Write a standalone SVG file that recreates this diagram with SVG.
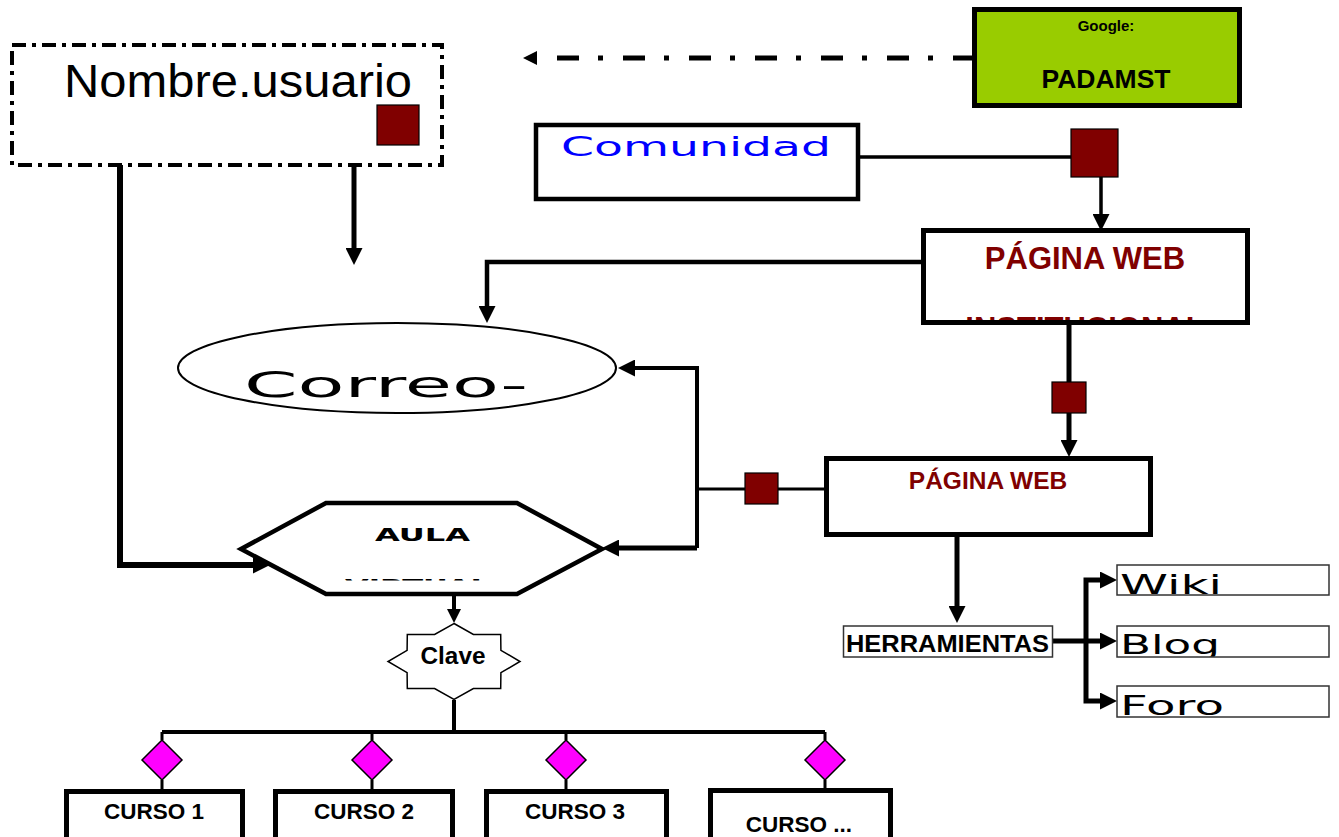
<svg xmlns="http://www.w3.org/2000/svg" width="1339" height="837" viewBox="0 0 1339 837">
<style>
.box{fill:#fff;stroke:#000}
.thin{fill:#fff;stroke:#333;stroke-width:1.5}
.sq{fill:#800000;stroke:#000;stroke-width:1.2}
.dia{fill:#ff00ff;stroke:#000;stroke-width:1.5}
.cal{font-family:"Liberation Sans",Arial,sans-serif;font-weight:bold}
.wide{font-family:"DejaVu Sans",Verdana,sans-serif}
.con{fill:none;stroke:#000;stroke-linejoin:miter}
</style>
<defs>
<marker id="arr" viewBox="0 0 10 10" refX="0" refY="5" markerUnits="userSpaceOnUse" markerWidth="17" markerHeight="17" orient="auto"><path d="M0,0 L10,5 L0,10 z" fill="#000"/></marker>
<marker id="arrS" viewBox="0 0 10 10" refX="0" refY="5" markerUnits="userSpaceOnUse" markerWidth="14" markerHeight="14" orient="auto"><path d="M0,0 L10,5 L0,10 z" fill="#000"/></marker>
<clipPath id="cInst"><rect x="926" y="233" width="319" height="87"/></clipPath>
<clipPath id="cAula"><rect x="240" y="505" width="360" height="75.5"/></clipPath>
<clipPath id="cWiki"><rect x="1117" y="565" width="212" height="30"/></clipPath>
<clipPath id="cBlog"><rect x="1117" y="626" width="212" height="30.5"/></clipPath>
<clipPath id="cForo"><rect x="1117" y="686" width="212" height="30.5"/></clipPath>
</defs>

<g id="connectors">
<path class="con" d="M975,58 L537,58" stroke-width="5" stroke-dasharray="22 20 5 19" marker-end="url(#arrS)"/>
<path class="con" d="M860,157 L1101,157 L1101,214" stroke-width="3.5" marker-end="url(#arr)"/>
<path class="con" d="M921,262 L487,262 L487,306" stroke-width="4.5" marker-end="url(#arr)"/>
<path class="con" d="M354,165 L354,248" stroke-width="5" marker-end="url(#arr)"/>
<path class="con" d="M120,165 L120,565 L253,565" stroke-width="6" marker-end="url(#arr)"/>
<path class="con" d="M1069,325 L1069,440" stroke-width="5" marker-end="url(#arr)"/>
<path class="con" d="M697,548 L697,368 L635,368" stroke-width="4" marker-end="url(#arr)"/>
<path class="con" d="M697,548 L619,548" stroke-width="5" marker-end="url(#arr)"/>
<path class="con" d="M826,489 L697,489" stroke-width="3"/>
<path class="con" d="M957,537 L957,606" stroke-width="5" marker-end="url(#arr)"/>
<path class="con" d="M1053,641 L1100,641" stroke-width="5" marker-end="url(#arr)"/>
<path class="con" d="M1086,641 L1086,580 L1100,580" stroke-width="5" stroke-linejoin="round" marker-end="url(#arr)"/>
<path class="con" d="M1086,641 L1086,701 L1100,701" stroke-width="5" stroke-linejoin="round" marker-end="url(#arr)"/>
<path class="con" d="M454,594 L454,609" stroke-width="4" marker-end="url(#arrS)"/>
<path class="con" d="M454,700 L454,732 M162,732 L825,732" stroke-width="4"/>
<path class="con" d="M162,732 L162,740 M162,780 L162,790 M372,732 L372,740 M372,780 L372,790 M566,732 L566,740 M566,780 L566,790 M825,732 L825,740 M825,780 L825,790" stroke-width="3"/>
</g>

<g id="nombre">
<rect x="12" y="45" width="430" height="120" fill="#fff" stroke="#000" stroke-width="4" stroke-dasharray="14 6 4 6"/>
<text x="64" y="97" font-family="'Liberation Sans',Arial,sans-serif" font-size="46" textLength="348" lengthAdjust="spacingAndGlyphs">Nombre.usuario</text>
<rect class="sq" x="377" y="105" width="42" height="40"/>
</g>

<g id="google">
<rect x="974.5" y="9.5" width="265" height="96" fill="#99cc00" stroke="#000" stroke-width="5"/>
<text class="cal" x="1106" y="31" font-size="15" text-anchor="middle">Google:</text>
<text class="cal" x="1106" y="88" font-size="26.5" text-anchor="middle">PADAMST</text>
</g>

<g id="comunidad">
<rect class="box" x="536" y="125" width="322" height="74" stroke-width="4.5"/>
<text class="wide" x="561" y="156" font-size="26" fill="#0000ff" textLength="270" lengthAdjust="spacingAndGlyphs">Comunidad</text>
<rect class="sq" x="1071" y="129" width="47" height="48"/>
</g>

<g id="pagina-institucional">
<rect class="box" x="923.5" y="230.5" width="324" height="92" stroke-width="5"/>
<text class="cal" x="1085" y="269" font-size="31" fill="#800000" text-anchor="middle">PÁGINA WEB</text>
<text class="cal" x="1085" y="339" font-size="31" fill="#800000" text-anchor="middle" clip-path="url(#cInst)">INSTITUCIONAL</text>
<rect class="sq" x="1052" y="382" width="34" height="31"/>
</g>

<g id="correo">
<ellipse cx="397" cy="368" rx="219" ry="45" fill="#fff" stroke="#000" stroke-width="2"/>
<text class="wide" x="244" y="397" font-size="35" textLength="284" lengthAdjust="spacingAndGlyphs">Correo-</text>
</g>

<g id="pagina-web">
<rect class="box" x="826.5" y="458.5" width="324" height="76" stroke-width="5"/>
<text class="cal" x="988" y="489" font-size="24.5" fill="#800000" text-anchor="middle">PÁGINA WEB</text>
<rect class="sq" x="745" y="473" width="33" height="31"/>
</g>

<g id="aula">
<polygon points="241,549 326,503 517,503 602,549 517,594 326,594" fill="#fff" stroke="#000" stroke-width="4.5"/>
<text class="wide" x="375" y="541" font-size="17" font-weight="bold" textLength="95" lengthAdjust="spacingAndGlyphs">AULA</text>
<text class="wide" x="345" y="592" font-size="17" font-weight="bold" textLength="145" lengthAdjust="spacingAndGlyphs" clip-path="url(#cAula)">VIRTUAL</text>
</g>

<g id="clave">
<polygon points="454,623.5 473.4,634.4 500.7,634.6 500.9,650.3 520,661.5 500.9,672.7 500.7,688.4 473.4,688.6 454,699.5 434.6,688.6 407.3,688.4 407.1,672.7 388,661.5 407.1,650.3 407.3,634.6 434.6,634.4" fill="#fff" stroke="#000" stroke-width="1.5"/>
<text class="cal" x="453" y="664" font-size="23" text-anchor="middle" textLength="65" lengthAdjust="spacingAndGlyphs">Clave</text>
</g>

<g id="herramientas">
<rect class="thin" x="843.5" y="626" width="209" height="31"/>
<text class="cal" x="846" y="652" font-size="23" textLength="203" lengthAdjust="spacingAndGlyphs">HERRAMIENTAS</text>
</g>

<g id="wiki">
<rect class="thin" x="1117" y="565" width="212" height="30"/>
<text class="wide" x="1120" y="594" font-size="27" textLength="102" lengthAdjust="spacingAndGlyphs" clip-path="url(#cWiki)">Wiki</text>
</g>
<g id="blog">
<rect class="thin" x="1117" y="626" width="212" height="31"/>
<text class="wide" x="1120" y="654" font-size="27" textLength="100" lengthAdjust="spacingAndGlyphs" clip-path="url(#cBlog)">Blog</text>
</g>
<g id="foro">
<rect class="thin" x="1117" y="686" width="212" height="31"/>
<text class="wide" x="1120" y="715" font-size="27" textLength="104" lengthAdjust="spacingAndGlyphs" clip-path="url(#cForo)">Foro</text>
</g>

<g id="curso1">
<polygon class="dia" points="162,740 182,760 162,780 142,760"/>
<rect class="box" x="66.5" y="791.5" width="176" height="60" stroke-width="5"/>
<text class="cal" x="154" y="819" font-size="22.5" text-anchor="middle">CURSO 1</text>
</g>
<g id="curso2">
<polygon class="dia" points="372,740 392,760 372,780 352,760"/>
<rect class="box" x="275.5" y="791.5" width="177" height="60" stroke-width="5"/>
<text class="cal" x="364" y="819" font-size="22.5" text-anchor="middle">CURSO 2</text>
</g>
<g id="curso3">
<polygon class="dia" points="566,740 586,760 566,780 546,760"/>
<rect class="box" x="486.5" y="791.5" width="180" height="60" stroke-width="5"/>
<text class="cal" x="575" y="819" font-size="22.5" text-anchor="middle">CURSO 3</text>
</g>
<g id="curso4">
<polygon class="dia" points="825,740 845,760 825,780 805,760"/>
<rect class="box" x="710.5" y="790.5" width="180" height="60" stroke-width="5"/>
<text class="cal" x="799" y="832" font-size="22.5" text-anchor="middle">CURSO ...</text>
</g>
</svg>
